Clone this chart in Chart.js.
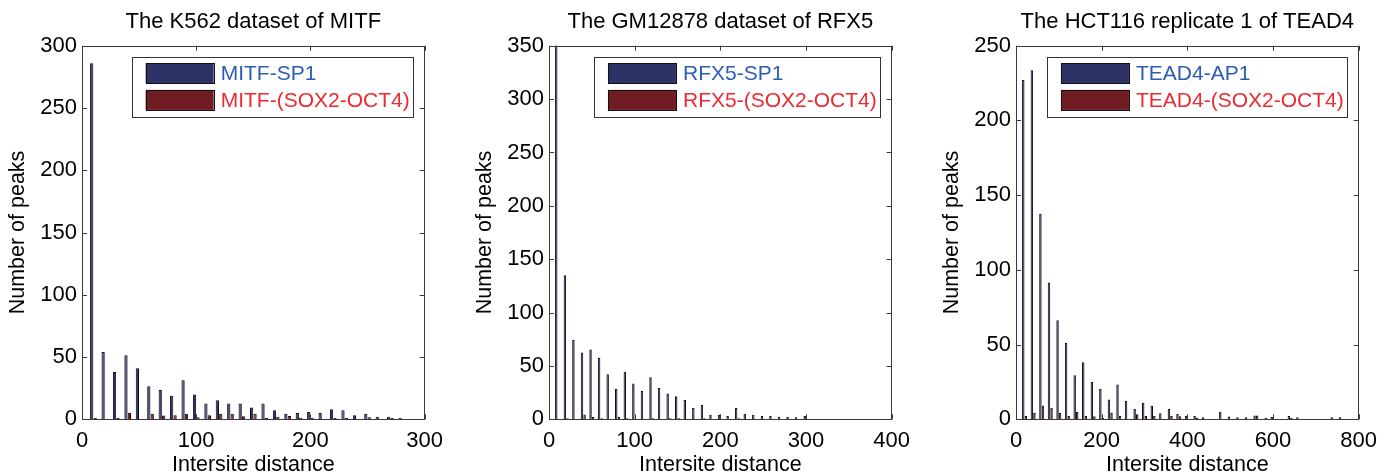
<!DOCTYPE html>
<html>
<head>
<meta charset="utf-8">
<script src="https://cdn.jsdelivr.net/npm/chart.js@4.4.0/dist/chart.umd.min.js"></script>
<style>
    body { margin: 0; background: #fff; width: 1385px; height: 476px; overflow: hidden; position: relative; }
    .panel { position: absolute; top: 0; width: 451px; height: 476px; }
</style>
</head>
<body>
<div class="panel" style="left:0px"><canvas id="mitf"></canvas></div>
<div class="panel" style="left:467px"><canvas id="rfx5"></canvas></div>
<div class="panel" style="left:934px"><canvas id="tead4"></canvas></div>
<script>
// values (bin centre -> number of peaks)
const mitfBins = [10, 20, 30, 40, 50, 60, 70, 80, 90, 100, 110, 120, 130, 140,
    150, 160, 170, 180, 190, 200, 210, 220, 230, 240, 250, 260, 270, 280];
const mitfSp1 = [286, 54, 38, 51.5, 41, 26.5, 23.5, 19, 31.3, 20, 12.6, 15.2, 12.6, 12.6,
    9.4, 12.6, 7.2, 4.5, 5, 5.9, 5, 8, 7.2, 3.2, 4.5, 2, 2, 1.2];
const mitfSox = [1, 0, 1, 5.3, 0, 4.5, 3, 3.2, 4.5, 1.6, 3.2, 4.5, 4.5, 2.4,
    4.5, 1, 2, 2.7, 1.3, 1.3, 0, 1, 1, 0, 1.6, 0, 1, 0];

const rfx5Bins = [10, 20, 30, 40, 50, 60, 70, 80, 90, 100, 110, 120, 130, 140, 150,
    160, 170, 180, 190, 200, 210, 220, 230, 240, 250, 260, 270, 280, 290, 300];
const rfx5Sp1 = [352, 135, 74.4, 62.5, 65.5, 57.6, 42.3, 28.6, 44.5, 33.6, 26.4, 39.4, 29.3, 24.1, 21.7,
    18, 10.5, 13.3, 4.2, 4.2, 3.2, 10.6, 5.2, 4.2, 3.2, 3.2, 2.3, 2.3, 2, 3];
const rfx5Sox = [0, 1, 0, 4.4, 2.2, 1, 0, 2.5, 1, 0, 0, 1, 0, 1, 1,
    0, 0, 1, 0, 0, 0, 1, 0, 0, 0, 0, 0, 0, 0, 0];

const tead4Bins = [20, 40, 60, 80, 100, 120, 140, 160, 180, 200, 220, 240, 260, 280, 300,
    320, 340, 360, 380, 400, 420, 440, 460, 480, 500, 520, 540, 560, 580, 600,
    620, 640, 660, 680, 700, 720, 740, 760];
const tead4Ap1 = [227, 233.5, 137.5, 91.5, 66.3, 51, 29.5, 38.2, 25.2, 20.3, 13.2, 23.3, 12.4, 7.1, 11,
    9, 4, 6.9, 3.5, 2.4, 2.2, 1.3, 0, 5.1, 1.8, 1.3, 1.3, 2.5, 0, 1.5,
    0, 2.2, 1.3, 0, 0, 0, 1.3, 1.3];
const tead4Sox = [2.2, 4.2, 9.2, 7.8, 4.2, 2.2, 4.9, 2.2, 2, 1, 4.5, 2.2, 0, 3.3, 2.2,
    2.2, 0, 2.2, 2, 0, 1, 0, 0, 0, 0, 0, 0, 2.5, 1, 0,
    0, 1, 0, 0, 0, 0, 0, 0];

const FONT = "'Liberation Sans', Arial, Helvetica, sans-serif";
const BLUE_FILL = "#2e3367", RED_FILL = "#6f1c22";
const LEGEND_TEXT = ["#2d5db2", "#ec2a30"];

function pairs(xs, ys) {
    return xs.map((x, i) => ({x, y: ys[i]}));
}

// box around the axes with inward ticks on all four sides
const frame = {
    id: "frame",
    afterDatasetsDraw(chart) {
        const {ctx, chartArea: a, scales: {x, y}} = chart;
        ctx.save();
        ctx.strokeStyle = "#3a3a3a";
        ctx.lineWidth = 1;
        ctx.strokeRect(Math.round(a.left) + 0.5, Math.round(a.top) + 0.5,
            Math.round(a.width) - 1, Math.round(a.height) - 1);
        ctx.beginPath();
        for (const t of x.ticks) {
            const px = Math.round(x.getPixelForValue(t.value)) + 0.5;
            ctx.moveTo(px, a.top); ctx.lineTo(px, a.top + 5);
            ctx.moveTo(px, a.bottom); ctx.lineTo(px, a.bottom - 5);
        }
        for (const t of y.ticks) {
            const py = Math.round(y.getPixelForValue(t.value)) + 0.5;
            ctx.moveTo(a.left, py); ctx.lineTo(a.left + 5, py);
            ctx.moveTo(a.right, py); ctx.lineTo(a.right - 5, py);
        }
        ctx.stroke();
        ctx.restore();
    }
};

// MATLAB style legend box in the upper right corner
const boxLegend = {
    id: "boxLegend",
    afterDraw(chart) {
        const {ctx, chartArea: a} = chart;
        const sets = chart.data.datasets;
        ctx.save();
        ctx.font = "21px " + FONT;
        const tw = Math.max(...sets.map(d => ctx.measureText(d.label).width));
        const w = 13.5 + 68 + 7 + tw + 4, h = 60;
        const left = a.right - 11 - w, top = a.top + 11;
        ctx.fillStyle = "#fff";
        ctx.fillRect(left, top, w, h);
        ctx.strokeStyle = "#333";
        ctx.lineWidth = 1;
        ctx.strokeRect(Math.round(left) + 0.5, Math.round(top) + 0.5, Math.round(w), h);
        sets.forEach((d, i) => {
            const sy = top + 6.5 + i * 26.7;
            ctx.fillStyle = d.backgroundColor;
            ctx.fillRect(left + 13.5, sy, 68, 20);
            ctx.strokeStyle = "#111";
            ctx.strokeRect(Math.round(left + 13.5) + 0.5, Math.round(sy) + 0.5, 68, 20);
            ctx.fillStyle = LEGEND_TEXT[i];
            ctx.textBaseline = "middle";
            ctx.fillText(d.label, left + 13.5 + 68 + 7, sy + 11);
        });
        ctx.restore();
    }
};

function make_chart(id, title, bins, s1, s2, labels, xmax, xstep, ymax) {
    return new Chart(document.getElementById(id), {
        type: "bar",
        data: {
            datasets: [
                {label: labels[0], data: pairs(bins, s1), backgroundColor: BLUE_FILL,
                    borderColor: "#0c0c1c", borderWidth: 1, clip: 0},
                {label: labels[1], data: pairs(bins, s2), backgroundColor: RED_FILL,
                    borderColor: "#180606", borderWidth: 1, clip: 0}
            ]
        },
        options: {
            responsive: true,
            maintainAspectRatio: false,
            animation: false,
            categoryPercentage: 0.6,
            barPercentage: 0.95,
            layout: {padding: {left: 0, right: 24.5, top: 0, bottom: 0}},
            plugins: {
                legend: {display: false},
                tooltip: {enabled: false},
                title: {
                    display: true, text: title, fullSize: false, color: "#000",
                    font: {family: FONT, size: 22, weight: "normal"},
                    padding: {top: 8.5, bottom: 10.8}
                }
            },
            scales: {
                x: {
                    type: "linear", min: 0, max: xmax, offset: false,
                    afterFit: s => { s.height = 56.7; },
                    grid: {display: false, drawTicks: false, offset: false},
                    border: {display: false},
                    ticks: {stepSize: xstep, color: "#000", padding: 8,
                        font: {family: FONT, size: 22}, maxRotation: 0},
                    title: {display: true, text: "Intersite distance", color: "#000",
                        font: {family: FONT, size: 21.5}, padding: {top: 0, bottom: -2}}
                },
                y: {
                    min: 0, max: ymax,
                    afterFit: s => { s.width = 82; },
                    grid: {display: false, drawTicks: false},
                    border: {display: false},
                    ticks: {stepSize: 50, color: "#000", padding: 5,
                        font: {family: FONT, size: 22}},
                    title: {display: true, text: "Number of peaks", color: "#000",
                        font: {family: FONT, size: 21.5}, padding: {top: 5, bottom: 0}}
                }
            }
        },
        plugins: [frame, boxLegend]
    });
}

make_chart("mitf", "The K562 dataset of MITF", mitfBins, mitfSp1, mitfSox,
    ["MITF-SP1", "MITF-(SOX2-OCT4)"], 300, 100, 300);
make_chart("rfx5", "The GM12878 dataset of RFX5", rfx5Bins, rfx5Sp1, rfx5Sox,
    ["RFX5-SP1", "RFX5-(SOX2-OCT4)"], 400, 100, 350);
make_chart("tead4", "The HCT116 replicate 1 of TEAD4", tead4Bins, tead4Ap1, tead4Sox,
    ["TEAD4-AP1", "TEAD4-(SOX2-OCT4)"], 800, 200, 250);
</script>
</body>
</html>
